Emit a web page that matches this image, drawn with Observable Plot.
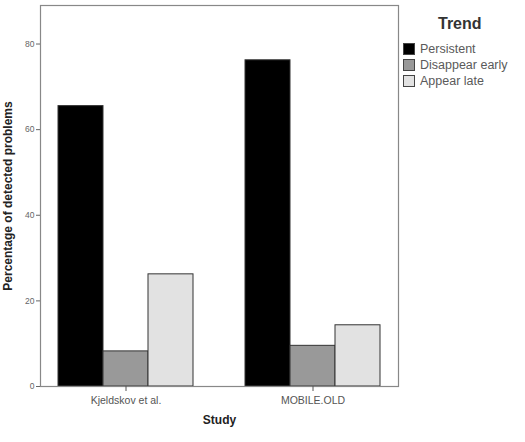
<!DOCTYPE html>
<html>
<head>
<meta charset="utf-8">
<script src="https://cdn.jsdelivr.net/npm/d3@7"></script>
<script src="https://cdn.jsdelivr.net/npm/@observablehq/plot@0.6"></script>
<style>
  body { margin: 0; background: #fff; font-family: "Liberation Sans", Arial, sans-serif; }
  #wrap { display: flex; flex-direction: row; align-items: flex-start; width: 525px; height: 442px; }
  #legend { margin-left: 1px; padding-top: 14px; width: 122px; }
  #legend .title { font-size: 16px; font-weight: bold; color: #333; margin-left: 35px; line-height: 20px; margin-bottom: 7px; }
  #legend .item { display: flex; align-items: center; height: 16px; font-size: 12.5px; color: #5a5a5a; }
  #legend .sw { width: 12px; height: 12px; border: 1px solid #444; margin-right: 5px; box-sizing: border-box; }
</style>
</head>
<body>
<div id="wrap"><div id="chart"></div><div id="legend"></div></div>
<script>
const studies = ["Kjeldskov et al.", "MOBILE.OLD"];
const trends = ["Persistent", "Disappear early", "Appear late"];
const persistent = [65.5, 76.2];
const disappearEarly = [8.2, 9.5];
const appearLate = [26.2, 14.3];
const colors = ["#000000", "#999999", "#e2e2e2"];
const yTicks = [0, 20, 40, 60, 80];
const yLabel = "Percentage of detected problems";
const xLabel = "Study";
const legendTitle = "Trend";

const series = [persistent, disappearEarly, appearLate];
const data = [];
studies.forEach((s, i) => trends.forEach((t, j) => data.push({study: s, trend: t, value: series[j][i]})));

const chart = Plot.plot({
  width: 402,
  height: 442,
  marginLeft: 40,
  marginRight: 4,
  marginTop: 5,
  marginBottom: 56,
  style: {fontFamily: "'Liberation Sans', Arial, sans-serif", background: "#fff"},
  fx: {domain: studies, paddingInner: 0.0856, paddingOuter: 0, label: null},
  x: {domain: trends, paddingInner: 0, paddingOuter: 0.359, axis: null},
  y: {domain: [0, 89], axis: null},
  color: {domain: trends, range: colors},
  marks: [
    Plot.barY(data, {fx: "study", x: "trend", y: "value", fill: "trend", stroke: "#333", strokeWidth: 1}),
    Plot.frame({facet: "super", stroke: "#888", strokeWidth: 1.2}),
    Plot.axisY({ticks: yTicks, tickSize: 4, tickPadding: 2, fontSize: 8.5, label: null, color: "#666"}),
    Plot.axisFx({anchor: "bottom", tickSize: 5, tickPadding: 5, fontSize: 10.5, label: null, color: "#555"}),
    Plot.text([yLabel], {facet: "super", frameAnchor: "left", textAnchor: "middle", rotate: -90, dx: -32, fontWeight: "bold", fontSize: 12, fill: "#222"}),
    Plot.text([xLabel], {facet: "super", frameAnchor: "bottom", dy: 37, fontWeight: "bold", fontSize: 12, fill: "#222"})
  ]
});
document.getElementById("chart").appendChild(chart);

const legend = document.getElementById("legend");
const title = document.createElement("div");
title.className = "title";
title.textContent = legendTitle;
legend.appendChild(title);
trends.forEach((t, j) => {
  const item = document.createElement("div");
  item.className = "item";
  const sw = document.createElement("div");
  sw.className = "sw";
  sw.style.background = colors[j];
  item.appendChild(sw);
  const lab = document.createElement("span");
  lab.textContent = t;
  item.appendChild(lab);
  legend.appendChild(item);
});
</script>
</body>
</html>
